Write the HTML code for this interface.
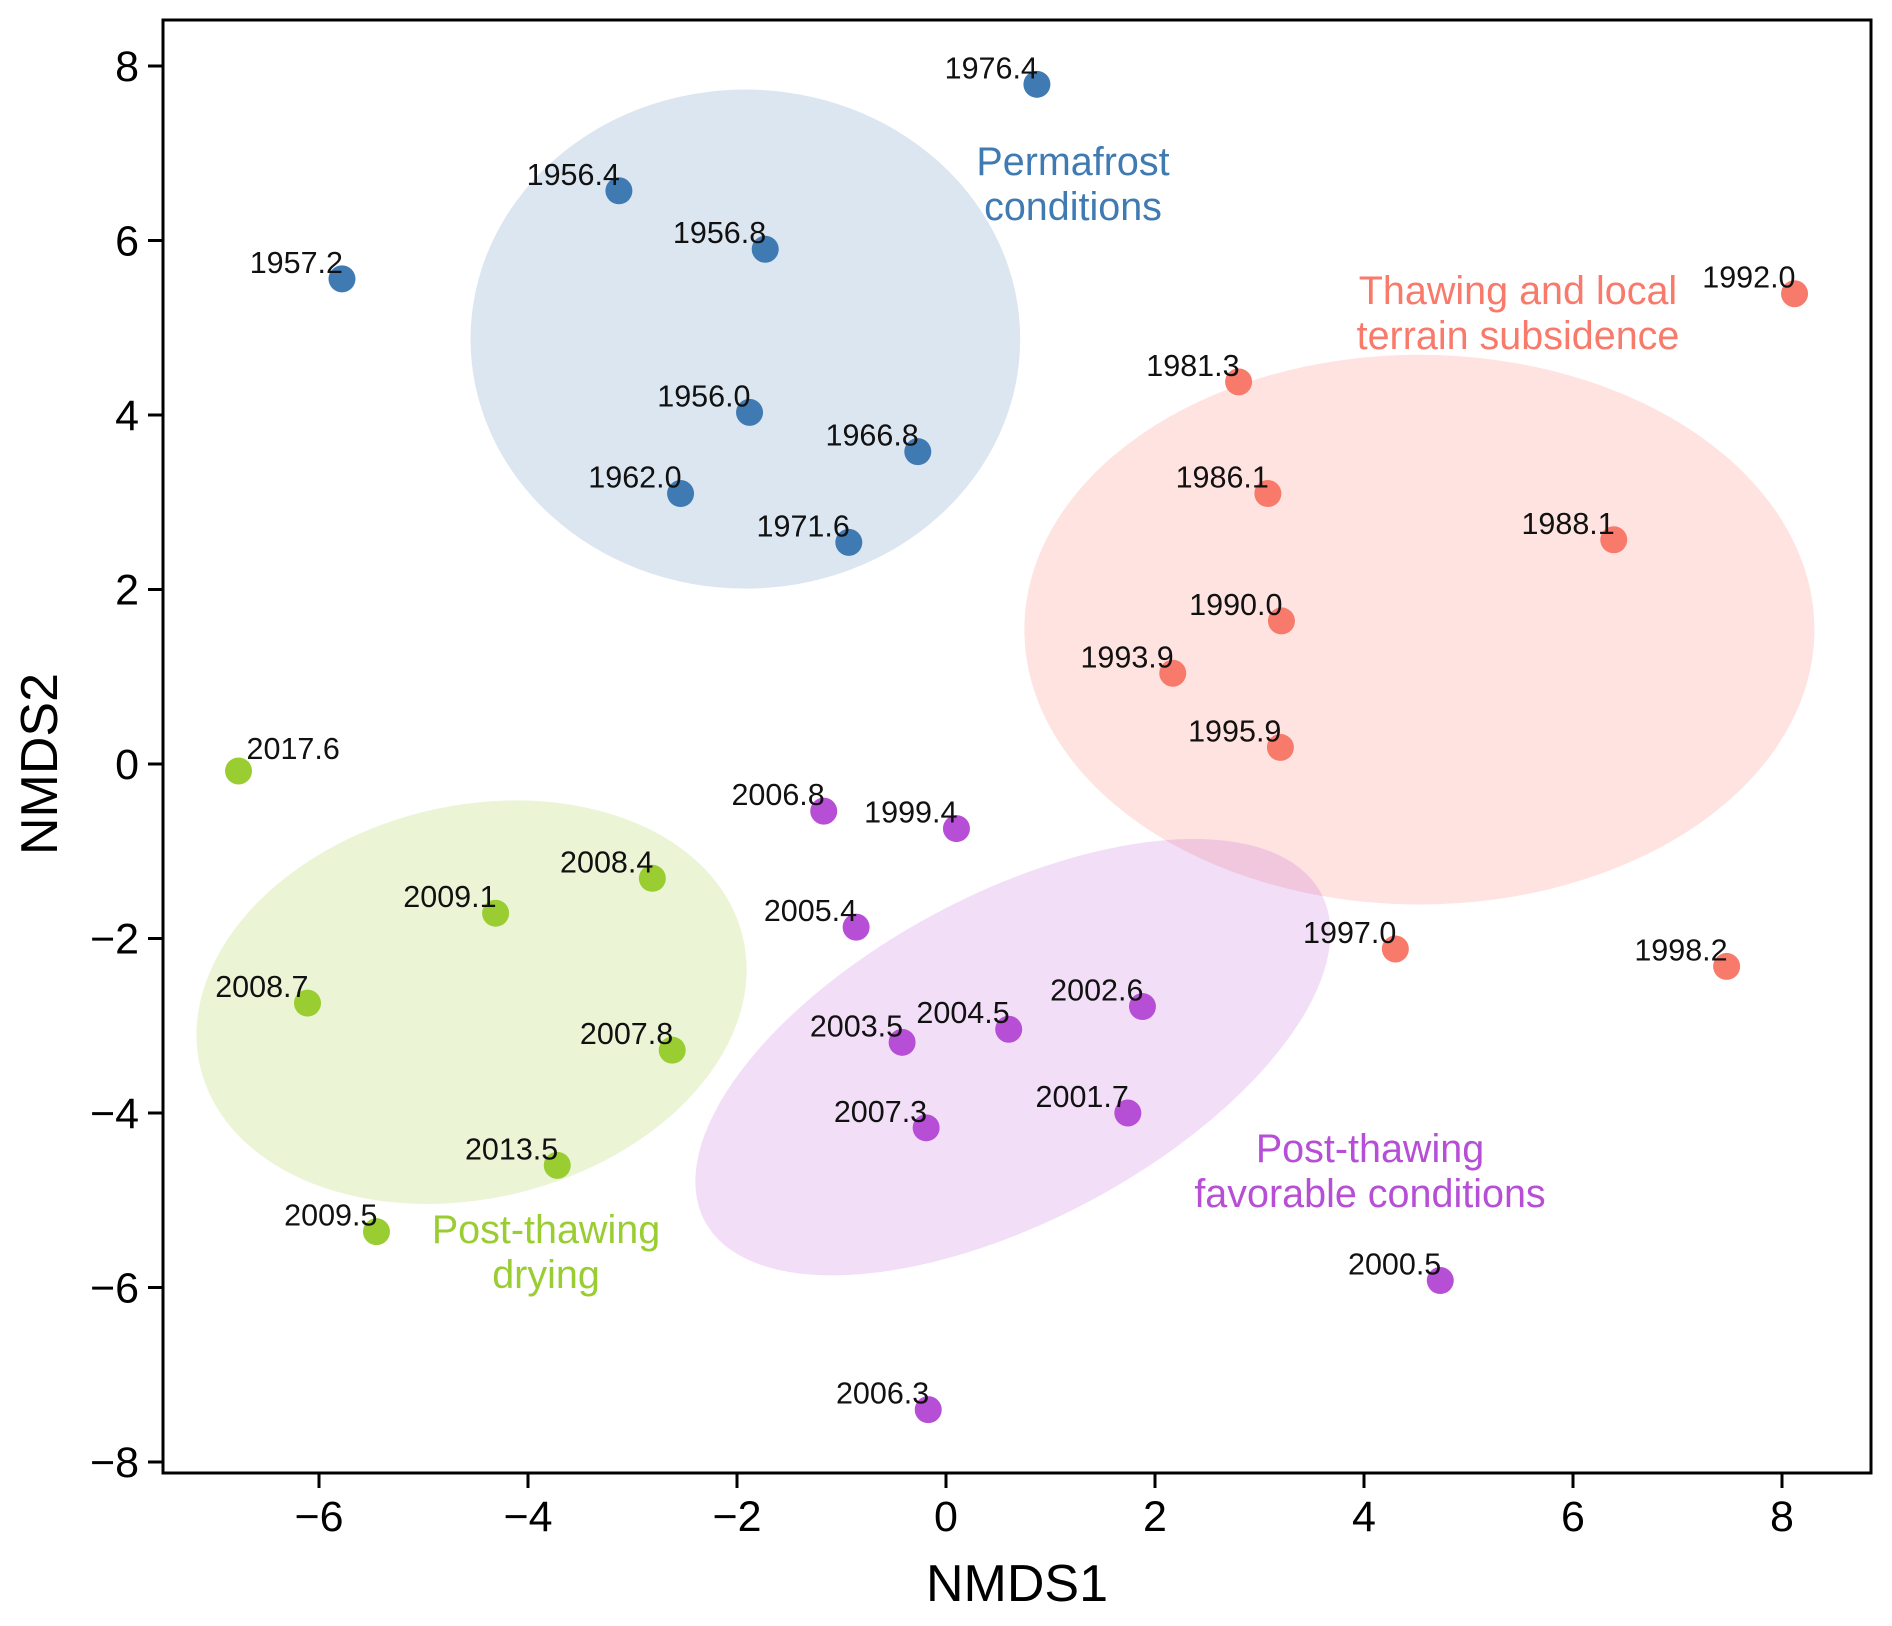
<!DOCTYPE html>
<html><head><meta charset="utf-8"><style>
html,body{margin:0;padding:0;background:#fff;}
svg text{font-family:"Liberation Sans",Arial,sans-serif;}
</style></head><body>
<svg id="chart" width="1892" height="1621" viewBox="0 0 1892 1621" xmlns="http://www.w3.org/2000/svg"></svg>
<script>
// Data arrays
const blueLabels = ["1976.4","1956.4","1956.8","1957.2","1956.0","1966.8","1962.0","1971.6"];
const blueX = [0.87,-3.13,-1.73,-5.78,-1.88,-0.27,-2.54,-0.93];
const blueY = [7.79,6.57,5.90,5.56,4.03,3.58,3.10,2.54];
const redLabels = ["1992.0","1981.3","1986.1","1988.1","1990.0","1993.9","1995.9","1997.0","1998.2"];
const redX = [8.12,2.80,3.08,6.39,3.21,2.17,3.20,4.30,7.47];
const redY = [5.39,4.38,3.10,2.57,1.64,1.04,0.19,-2.12,-2.32];
const purpleLabels = ["2006.8","1999.4","2005.4","2002.6","2003.5","2004.5","2001.7","2007.3","2000.5","2006.3"];
const purpleX = [-1.17,0.10,-0.86,1.88,-0.42,0.60,1.74,-0.19,4.73,-0.17];
const purpleY = [-0.54,-0.74,-1.87,-2.78,-3.19,-3.04,-4.00,-4.17,-5.92,-7.40];
const greenLabels = ["2017.6","2008.4","2009.1","2008.7","2007.8","2013.5","2009.5"];
const greenX = [-6.77,-2.81,-4.31,-6.11,-2.62,-3.72,-5.45];
const greenY = [-0.08,-1.31,-1.71,-2.74,-3.28,-4.60,-5.36];
const xTicks = [-6,-4,-2,0,2,4,6,8];
const yTicks = [-8,-6,-4,-2,0,2,4,6,8];
const xTickLabels = ["\u22126","\u22124","\u22122","0","2","4","6","8"];
const yTickLabels = ["\u22128","\u22126","\u22124","\u22122","0","2","4","6","8"];
// ellipse: centre (data), semi-axes (data units along x / y before rotation), angle deg
const ellipseCX = [-1.92, 4.53, -4.54, 0.64];
const ellipseCY = [4.87, 1.54, -2.73, -3.36];
const ellipseRX = [2.63, 3.78, 2.67, 3.34];
const ellipseRY = [2.86, 3.15, 2.25, 1.87];
const ellipseAngle = [0, 0, -13.6, -28];

const L=163,T=20,R=1871,B=1473;
const X0=946, XS=104.5, Y0=764, YS=87.25;
function sx(v){return X0+v*XS;}
function sy(v){return Y0-v*YS;}
const NS="http://www.w3.org/2000/svg";
const svg=document.getElementById('chart');
function mk(tag,attrs,parent){const e=document.createElementNS(NS,tag);for(const k in attrs)e.setAttribute(k,attrs[k]);(parent||svg).appendChild(e);return e;}

const groups=[
 {name:'permafrost',fill:'rgba(63,122,179,0.19)',col:'#3f7ab3',lx:blueLabels,xs:blueX,ys:blueY,e:0},
 {name:'thawing',fill:'rgba(248,122,107,0.21)',col:'#f87a6b',lx:redLabels,xs:redX,ys:redY,e:1},
 {name:'drying',fill:'rgba(154,205,50,0.2)',col:'#9acd32',lx:greenLabels,xs:greenX,ys:greenY,e:2},
 {name:'favorable',fill:'rgba(184,79,214,0.19)',col:'#b64fd6',lx:purpleLabels,xs:purpleX,ys:purpleY,e:3}
];
groups.forEach(g=>{
  const i=g.e;
  const cx=sx(ellipseCX[i]), cy=sy(ellipseCY[i]);
  const el=mk('ellipse',{cx:cx,cy:cy,rx:ellipseRX[i]*XS,ry:ellipseRY[i]*YS,fill:g.fill,transform:`rotate(${ellipseAngle[i]} ${cx} ${cy})`});
  
  
});
groups.forEach(g=>{
  for(let k=0;k<g.xs.length;k++){
    const px=sx(g.xs[k]), py=sy(g.ys[k]);
    const c=mk('circle',{cx:px,cy:py,r:13.5,fill:g.col});
    
    
    let t;
    if(g.lx[k]==="2017.6"){
      t=mk('text',{x:px+8,y:py-12,'font-size':30.5,fill:'#111'});
    } else {
      t=mk('text',{x:px+1,y:py-6,'font-size':30.5,fill:'#111','text-anchor':'end'});
    }
    t.textContent=g.lx[k];
    
    
  }
});
const gl=[
 ['Permafrost',1073,175,'#3f7ab3'],['conditions',1073,220,'#3f7ab3'],
 ['Thawing and local',1518,304,'#f87a6b'],['terrain subsidence',1518,349,'#f87a6b'],
 ['Post-thawing',1370,1162,'#b64fd6'],['favorable conditions',1370,1207,'#b64fd6'],
 ['Post-thawing',546,1243,'#9acd32'],['drying',546,1288,'#9acd32']
];
gl.forEach(a=>{
  const t=mk('text',{x:a[1],y:a[2],'font-size':39.5,fill:a[3],'text-anchor':'middle'});
  t.textContent=a[0];
  
  
});
const fr=mk('rect',{x:L,y:T,width:R-L,height:B-T,fill:'none',stroke:'#000','stroke-width':3});


xTicks.forEach((v,i)=>{
  const x=sx(v);
  const l=mk('line',{x1:x,x2:x,y1:B,y2:B+15,stroke:'#000','stroke-width':3});
  
  
  const t=mk('text',{x:x,y:B+58,'font-size':43,fill:'#000','text-anchor':'middle'});
  t.textContent=xTickLabels[i];
  
  
});
yTicks.forEach((v,i)=>{
  const y=sy(v);
  const l=mk('line',{x1:L-15,x2:L,y1:y,y2:y,stroke:'#000','stroke-width':3});
  
  
  const t=mk('text',{x:L-24,y:y+15,'font-size':43,fill:'#000','text-anchor':'end'});
  t.textContent=yTickLabels[i];
  
  
});
const xt=mk('text',{x:1017,y:1601,'font-size':52,fill:'#000','text-anchor':'middle'});
xt.textContent='NMDS1';


const yt=mk('text',{x:0,y:0,'font-size':52,fill:'#000','text-anchor':'middle',transform:'translate(57,764) rotate(-90)'});
yt.textContent='NMDS2';


</script>
</body></html>
